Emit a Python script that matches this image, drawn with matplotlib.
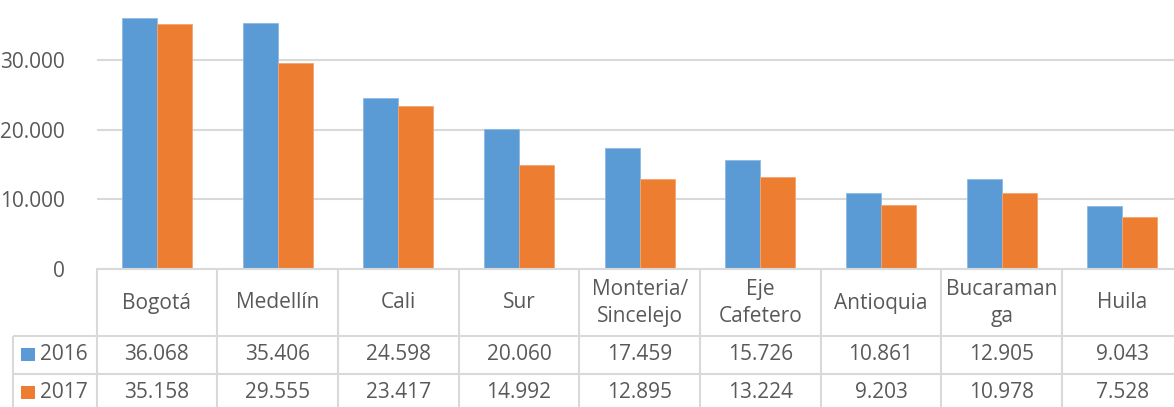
import matplotlib
matplotlib.use("Agg")
import matplotlib.pyplot as plt
from matplotlib.ticker import FuncFormatter
import numpy as np

categories = ["Bogotá", "Medellín", "Cali", "Sur", "Monteria/\nSincelejo",
              "Eje\nCafetero", "Antioquia", "Bucaraman\nga", "Huila"]
series_names = ["2016", "2017"]
values_2016 = [36068, 35406, 24598, 20060, 17459, 15726, 10861, 12905, 9043]
values_2017 = [35158, 29555, 23417, 14992, 12895, 13224, 9203, 10978, 7528]
yticks = [0, 10000, 20000, 30000]

BLUE = "#5B9BD5"
ORANGE = "#ED7D31"
TEXT = "#595959"
GRID = "#D9D9D9"
FONT = "Open Sans"
FS = 15

W, H = 1174, 407
fig = plt.figure(figsize=(W / 100, H / 100), dpi=100)

# plot area geometry (pixels)
x0 = 96.5
colw = 120.7
n = len(categories)
y_axis = 269.0
ymax = 38660

ax = fig.add_axes([x0 / W, (H - y_axis) / H, n * colw / W, y_axis / H])
idx = np.arange(n)
bw = 0.29
ax.bar(idx - bw / 2, values_2016, width=bw, color=BLUE, edgecolor="#8DB9E6", linewidth=0.6, zorder=3)
ax.bar(idx + bw / 2, values_2017, width=bw, color=ORANGE, edgecolor="#F3A56F", linewidth=0.6, zorder=3)
ax.set_xlim(-0.5, n - 0.5)
ax.set_ylim(0, ymax)
ax.set_yticks(yticks)
ax.yaxis.set_major_formatter(FuncFormatter(lambda v, p: f"{int(v):,}".replace(",", ".")))
ax.tick_params(axis="y", length=0, pad=23, labelsize=FS, labelcolor=TEXT)
for lab in ax.get_yticklabels():
    lab.set_fontfamily(FONT)
ax.set_xticks([])
ax.grid(axis="y", color=GRID, linewidth=1.5, zorder=0)
for s in ["top", "right", "left"]:
    ax.spines[s].set_visible(False)
ax.spines["bottom"].set_color(GRID)
ax.spines["bottom"].set_linewidth(1.5)
ax.spines["bottom"].set_zorder(4)

# overlay axes for the data table (pixel coordinates)
ov = fig.add_axes([0, 0, 1, 1])
ov.set_xlim(0, W)
ov.set_ylim(H, 0)
ov.axis("off")

row1_top = 336.0
row2_top = 373.5
left_col = 13.0

# vertical lines
for i in range(n):
    xb = x0 + i * colw
    ov.plot([xb, xb], [y_axis, H], color=GRID, lw=1.5, solid_capstyle="butt")
ov.plot([left_col, left_col], [row1_top, H], color=GRID, lw=1.5, solid_capstyle="butt")
# horizontal lines
for yy in [row1_top, row2_top]:
    ov.plot([left_col, W], [yy, yy], color=GRID, lw=1.5, solid_capstyle="butt")

# header labels
for i, c in enumerate(categories):
    cx = x0 + (i + 0.5) * colw
    ov.text(cx, 303, c, ha="center", va="center", fontsize=FS, color=TEXT,
            family=FONT, linespacing=1.38)

# data rows
rows = [(values_2016, BLUE, 354.5, series_names[0]), (values_2017, ORANGE, 392.5, series_names[1])]
for vals, col, cy, name in rows:
    ov.add_patch(plt.Rectangle((21, cy - 7), 13.5, 13.5, color=col, lw=0))
    ov.text(40, cy, name, ha="left", va="center", fontsize=FS, color=TEXT, family=FONT)
    for i, v in enumerate(vals):
        cx = x0 + (i + 0.5) * colw
        ov.text(cx, cy, f"{v:,}".replace(",", "."), ha="center", va="center",
                fontsize=FS, color=TEXT, family=FONT)

fig.savefig("out.png", dpi=100)
